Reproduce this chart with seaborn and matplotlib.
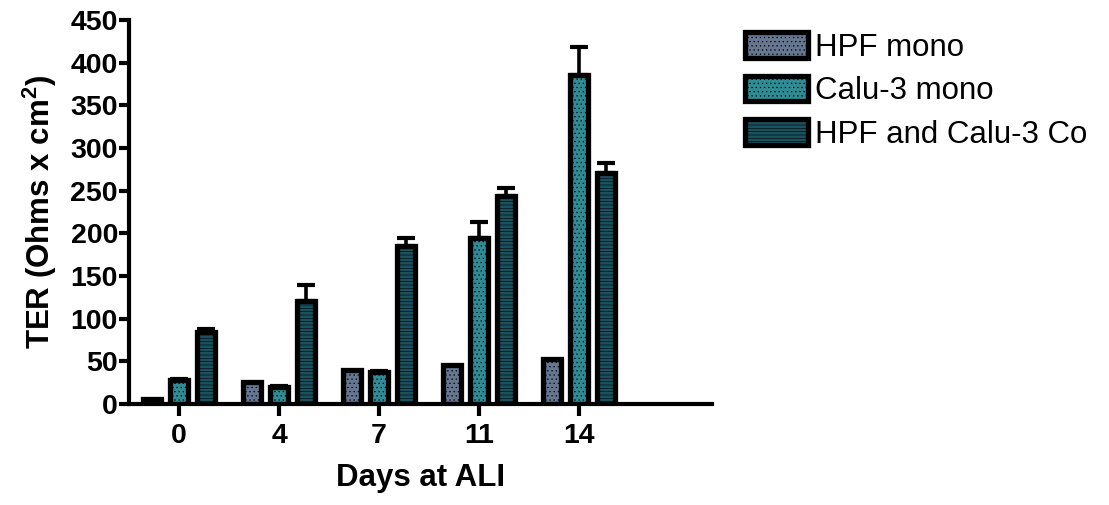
import matplotlib
matplotlib.use("Agg")
import matplotlib.pyplot as plt
import seaborn as sns
import pandas as pd

days = ["0", "4", "7", "11", "14"]
groups = ["HPF mono", "Calu-3 mono", "HPF and Calu-3 Co"]
hpf_mono = [6, 26, 40, 46, 53]
calu_mono = [28, 20, 38, 195, 386]
coculture = [84, 121, 185, 244, 271]
hpf_err = [0, 0, 0, 0, 0]
calu_err = [1, 1, 1, 18, 32]
co_err = [4, 19, 9, 9, 11]

values = [hpf_mono, calu_mono, coculture]
errors = [hpf_err, calu_err, co_err]

rows = []
for g, vals in zip(groups, values):
    for d, v in zip(days, vals):
        rows.append({"day": d, "group": g, "ter": v})
df = pd.DataFrame(rows)

sns.set_style("ticks")
plt.rcParams["font.family"] = ["Liberation Sans", "DejaVu Sans"]
plt.rcParams["mathtext.fontset"] = "custom"
plt.rcParams["mathtext.rm"] = "Liberation Sans:bold"
plt.rcParams["mathtext.bf"] = "Liberation Sans:bold"
plt.rcParams["hatch.linewidth"] = 0.4
plt.rcParams["hatch.color"] = "black"
for k in ["text.color", "axes.labelcolor", "xtick.color", "ytick.color", "axes.edgecolor"]:
    plt.rcParams[k] = "black"

colors = ["#5f7698", "#1f98a6", "#0f5869"]
hatches = ["....", "....", "-----"]

fig = plt.figure(figsize=(11.09, 5.05), dpi=100)
ax = fig.add_axes([129 / 1109, (505 - 404) / 505, (712 - 129) / 1109, (404 - 20) / 505])

sns.barplot(data=df, x="day", y="ter", hue="group", order=days, hue_order=groups,
            palette=colors, width=0.81, gap=0.33, edgecolor="black", linewidth=3.8,
            errorbar=None, legend=False, ax=ax, zorder=3)

bar_conts = list(ax.containers)
for cont, err, h in zip(bar_conts, errors, hatches):
    xs, ys, es = [], [], []
    for p, e in zip(cont.patches, err):
        p.set_hatch(h)
        if e > 0:
            xs.append(p.get_x() + p.get_width() / 2)
            ys.append(p.get_height())
            es.append(e)
    if xs:
        ax.errorbar(xs, ys, yerr=[[0] * len(es), es], fmt="none", ecolor="black",
                    elinewidth=2.6, capsize=6.5, capthick=3.0, zorder=2)

ax.set_ylim(0, 450)
ax.set_xlim(-0.5, 5.33)
ax.set_yticks(range(0, 451, 50))
ax.set_xlabel("Days at ALI", fontsize=22.5, fontweight="bold", labelpad=10)
ax.set_ylabel(r"TER (Ohms x cm$^{2}$)", fontsize=22.5, fontweight="bold", labelpad=8)
for lab in ax.get_xticklabels() + ax.get_yticklabels():
    lab.set_fontweight("bold")
ax.tick_params(axis="y", labelsize=20.5, length=7, width=3, pad=1)
ax.tick_params(axis="x", labelsize=20.5, length=8.5, width=3, pad=5)
sns.despine(ax=ax)
for s in ["left", "bottom"]:
    ax.spines[s].set_linewidth(3)
    ax.spines[s].set_zorder(4)

handles = [c.patches[0] for c in bar_conts]
fig.legend(handles, groups, loc="upper left", bbox_to_anchor=(745 / 1109, 1 - 32 / 505),
           frameon=False, fontsize=22.5, handlelength=2.0, handleheight=0.88,
           handletextpad=0.25, labelspacing=0.42, borderpad=0, borderaxespad=0)

fig.savefig("out.png", dpi=100)
